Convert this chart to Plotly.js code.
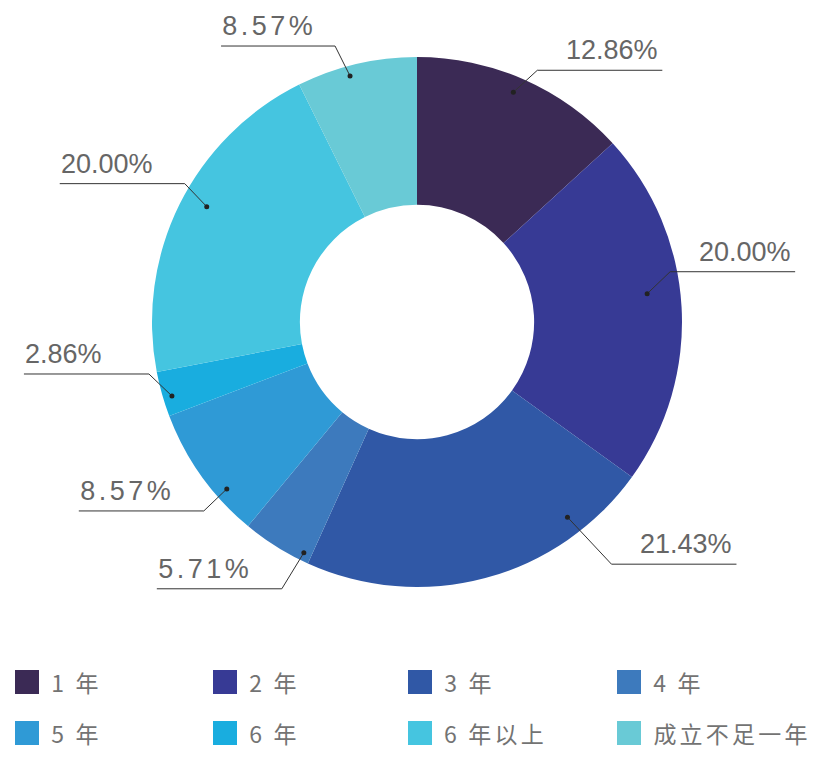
<!DOCTYPE html>
<html>
<head>
<meta charset="utf-8">
<script src="https://cdn.plot.ly/plotly-3.0.1.min.js"></script>
<style>
html,body{margin:0;padding:0;background:#fff;}
#chart{width:825px;height:768px;}
</style>
</head>
<body>
<div id="chart"></div>
<script>
// ---- data ----
const categories = ['1 年', '2 年', '3 年', '4 年', '5 年', '6 年', '6 年以上', '成立不足一年'];
// percentages printed on the labels
const labelShares = [12.86, 20.00, 21.43, 5.71, 8.57, 2.86, 20.00, 8.57];
// slice sizes as drawn in the picture (arc shares, %)
const arcShares = [13.22, 21.72, 21.81, 4.25, 8.22, 2.75, 20.69, 7.33];
const sliceColors = ['#3b2a55', '#373a95', '#3058a6', '#3d7abd', '#2f9ad6', '#19addf', '#45c5e0', '#69cad6'];

// ---- layout config (px) ----
const W = 825, H = 768;
const CX = 417, CY = 322, R = 265, HOLE = 0.442;
const leaderCfg = [
  {shift: -0.4, r: 0.94,  dx: 24,  dy: -22, len: 125, side: 'right'},
  {shift: 0.7,  r: 0.875, dx: 23,  dy: -22, len: 125, side: 'right'},
  {shift: -14.5,r: 0.93,  dx: 44,  dy: 47,  len: 125, side: 'right'},
  {shift: 0.4,  r: 0.97,  dx: -22, dy: 36,  len: 125, side: 'left', spaced: true},
  {shift: -2.7, r: 0.955, dx: -23, dy: 22,  len: 125, side: 'left', spaced: true},
  {shift: 1.2,  r: 0.966, dx: -23, dy: -22, len: 125, side: 'left'},
  {shift: 5.6,  r: 0.905, dx: -22, dy: -23, len: 125, side: 'left'},
  {shift: 0.2,  r: 0.962, dx: -15, dy: -30, len: 114, side: 'left', spaced: true}
];
const PCT_SPACING = 3.5, LEG_SPACING = 3.2;
const legendCols = [15, 213, 408, 617];
const legendRows = [682, 733];

const px = x => x / W;
const py = y => 1 - y / H;

const total = labelShares.reduce((a, b) => a + b, 0);
const shapes = [];
const annotations = [];
const spacingOf = [];
let cum = 0;
labelShares.forEach((v, i) => {
  const mid = (cum + v / 2) / total * 360;
  cum += v;
  const c = leaderCfg[i];
  const a = (mid + c.shift) * Math.PI / 180;
  const dx0 = CX + R * c.r * Math.sin(a);
  const dy0 = CY - R * c.r * Math.cos(a);
  const ex = dx0 + c.dx, ey = dy0 + c.dy;
  const lx = c.side === 'right' ? ex + c.len : ex - c.len;
  shapes.push({
    type: 'path', xref: 'paper', yref: 'paper',
    path: `M${px(dx0)},${py(dy0)}L${px(ex)},${py(ey)}L${px(lx)},${py(ey)}`,
    line: {color: '#333333', width: 1}
  });
  shapes.push({
    type: 'circle', xref: 'paper', yref: 'paper',
    x0: px(dx0 - 2.5), x1: px(dx0 + 2.5), y0: py(dy0 + 2.5), y1: py(dy0 - 2.5),
    fillcolor: '#222222', line: {width: 0}
  });
  const txt = v.toFixed(2) + '%';
  const sp = c.spaced ? PCT_SPACING : 0;
  spacingOf.push(sp);
  const comp = sp * txt.length / 2;
  annotations.push({
    xref: 'paper', yref: 'paper',
    x: px(c.side === 'right' ? lx - 2 - comp : lx - 1 + comp), y: py(ey - 3),
    xanchor: c.side === 'right' ? 'right' : 'left', yanchor: 'bottom',
    text: txt, showarrow: false,
    font: {family: 'Liberation Sans, Arial, sans-serif', size: 27, color: '#666666'}
  });
});

// legend (manual)
categories.forEach((name, i) => {
  const col = i % 4, row = Math.floor(i / 4);
  const sx = legendCols[col], sy = legendRows[row];
  shapes.push({
    type: 'rect', xref: 'paper', yref: 'paper',
    x0: px(sx), x1: px(sx + 24), y0: py(sy + 12), y1: py(sy - 12),
    fillcolor: sliceColors[i], line: {width: 0}
  });
  spacingOf.push(LEG_SPACING);
  const comp = LEG_SPACING * name.length / 2;
  annotations.push({
    xref: 'paper', yref: 'paper', x: px(sx + 34 + comp), y: py(sy),
    xanchor: 'left', yanchor: 'middle', text: name, showarrow: false,
    font: {family: 'Noto Sans CJK SC, Noto Sans, sans-serif', size: 23, color: '#737373'}
  });
});

const trace = {
  type: 'pie',
  labels: categories,
  values: arcShares,
  customdata: labelShares,
  hole: HOLE,
  sort: false,
  direction: 'clockwise',
  rotation: 0,
  textinfo: 'none',
  hovertemplate: '%{label}: %{customdata:.2f}%<extra></extra>',
  marker: {colors: sliceColors, line: {width: 0}},
  domain: {x: [px(CX - R), px(CX + R)], y: [py(CY + R), py(CY - R)]},
  showlegend: false
};

const layout = {
  width: W, height: H,
  margin: {l: 0, r: 0, t: 0, b: 0},
  paper_bgcolor: '#ffffff',
  showlegend: false,
  shapes: shapes,
  annotations: annotations
};

Plotly.newPlot('chart', [trace], layout, {displayModeBar: false, staticPlot: true}).then(gd => {
  const annEls = gd.querySelectorAll('.annotation-text');
  annEls.forEach((el, k) => {
    if (spacingOf[k]) el.style.letterSpacing = spacingOf[k] + 'px';
  });
});
</script>
</body>
</html>
